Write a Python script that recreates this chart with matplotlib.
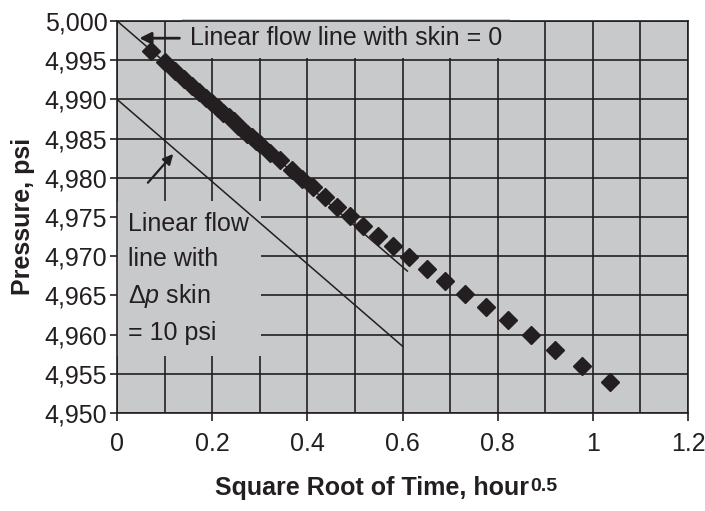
import matplotlib.pyplot as plt
from matplotlib.ticker import MultipleLocator, FuncFormatter

plt.close('all')
plt.rcParams['font.family'] = ['Liberation Sans', 'DejaVu Sans']
plt.rcParams['mathtext.fontset'] = 'custom'
plt.rcParams['mathtext.rm'] = 'Liberation Sans'
plt.rcParams['mathtext.it'] = 'Liberation Sans:italic'
plt.rcParams['mathtext.bf'] = 'Liberation Sans:bold'

#Data
sqrt_t = [0.0707, 0.1, 0.1225, 0.1414, 0.1581, 0.1732, 0.1871, 0.2, 0.2121,
          0.2236, 0.2345, 0.2449, 0.2550, 0.2646, 0.2739, 0.2828, 0.2915, 0.300,
          0.321, 0.342, 0.367, 0.388, 0.412, 0.436, 0.463, 0.490, 0.517, 0.548,
          0.580, 0.614, 0.652, 0.690, 0.732, 0.775, 0.822, 0.869, 0.921, 0.978,
          1.036]
pressure = [4996.2, 4994.7, 4993.6, 4992.6, 4991.7, 4990.9, 4990.2, 4989.5, 4988.9,
            4988.3, 4987.7, 4987.2, 4986.6, 4986.1, 4985.6, 4985.2, 4984.7, 4984.3,
            4983.2, 4982.2, 4981.0, 4979.9, 4978.8, 4977.6, 4976.3, 4975.1, 4973.9,
            4972.6, 4971.3, 4969.9, 4968.4, 4966.8, 4965.2, 4963.5, 4961.8, 4960.0,
            4958.0, 4956.0, 4953.9]

skin0_x = [0, 0.61]
skin0_p = [5000, 4968.1]
skin10_x = [0, 0.60]
skin10_p = [4990, 4958.5]

bg = '#c8c9cb'
ink = '#231f20'
fs = 18

fig = plt.figure(figsize=(7.05, 5.11), dpi=100)
ax = fig.add_axes([0.166, 0.192, 0.810, 0.767])
ax.set_facecolor(bg)

ax.plot(skin0_x, skin0_p, color=ink, lw=1.1, zorder=3)
ax.plot(skin10_x, skin10_p, color=ink, lw=1.1, zorder=3)
ax.plot(sqrt_t, pressure, 'D', color=ink, ms=9.5, mec=ink, zorder=4)

ax.set_xlim(0, 1.2)
ax.set_ylim(4950, 5000)
ax.xaxis.set_major_locator(MultipleLocator(0.2))
ax.xaxis.set_minor_locator(MultipleLocator(0.1))
ax.yaxis.set_major_locator(MultipleLocator(5))
ax.xaxis.set_major_formatter(FuncFormatter(lambda v, p: '%g' % round(v, 1)))
ax.yaxis.set_major_formatter(FuncFormatter(lambda v, p: '{:,.0f}'.format(v)))

ax.grid(True, which='both', color=ink, lw=1.2, zorder=1)
ax.set_axisbelow(True)
for s in ax.spines.values():
    s.set_color(ink)
    s.set_linewidth(1.2)
ax.tick_params(axis='x', which='major', length=6, width=1.2, color=ink, pad=8,
               labelsize=fs, labelcolor=ink)
ax.tick_params(axis='x', which='minor', length=0)
ax.tick_params(axis='y', length=5, width=1.2, color=ink, pad=2,
               labelsize=fs, labelcolor=ink)

ax.set_xlabel('Square Root of Time, hour', fontsize=fs, x=0.447,
              fontweight='bold', color=ink, labelpad=14)
ax.annotate('0.5', xy=(1, 1), xycoords=ax.xaxis.label, xytext=(0.5, -1.5),
            textcoords='offset points', ha='left', va='top', fontsize=14,
            fontweight='bold', color=ink)
ax.set_ylabel('Pressure, psi', fontsize=fs, fontweight='bold', color=ink, labelpad=7)

#Annotations
box = dict(boxstyle='square,pad=0.3', facecolor=bg, edgecolor='none')
ax.text(0.153, 4997.8, 'Linear flow line with skin = 0', fontsize=fs, color=ink,
        va='center', ha='left', bbox=box, zorder=2)
ax.annotate('', xy=(0.041, 4997.8), xytext=(0.137, 4997.8),
            arrowprops=dict(arrowstyle='-|>,head_length=0.7,head_width=0.35',
                            color=ink, lw=2), zorder=6)

ax.text(0.024, 4975.6, 'Linear flow\nline with\nΔ$\\mathit{p}$ skin\n= 10 psi',
        fontsize=fs, color=ink, va='top', ha='left', linespacing=1.55,
        bbox=dict(boxstyle='square,pad=0.45', facecolor=bg, edgecolor='none'),
        zorder=2)
ax.annotate('', xy=(0.122, 4983.3), xytext=(0.061, 4979.1),
            arrowprops=dict(arrowstyle='-|>,head_length=0.6,head_width=0.3',
                            color=ink, lw=1.6), zorder=6)

fig.savefig('out.png', dpi=100)
